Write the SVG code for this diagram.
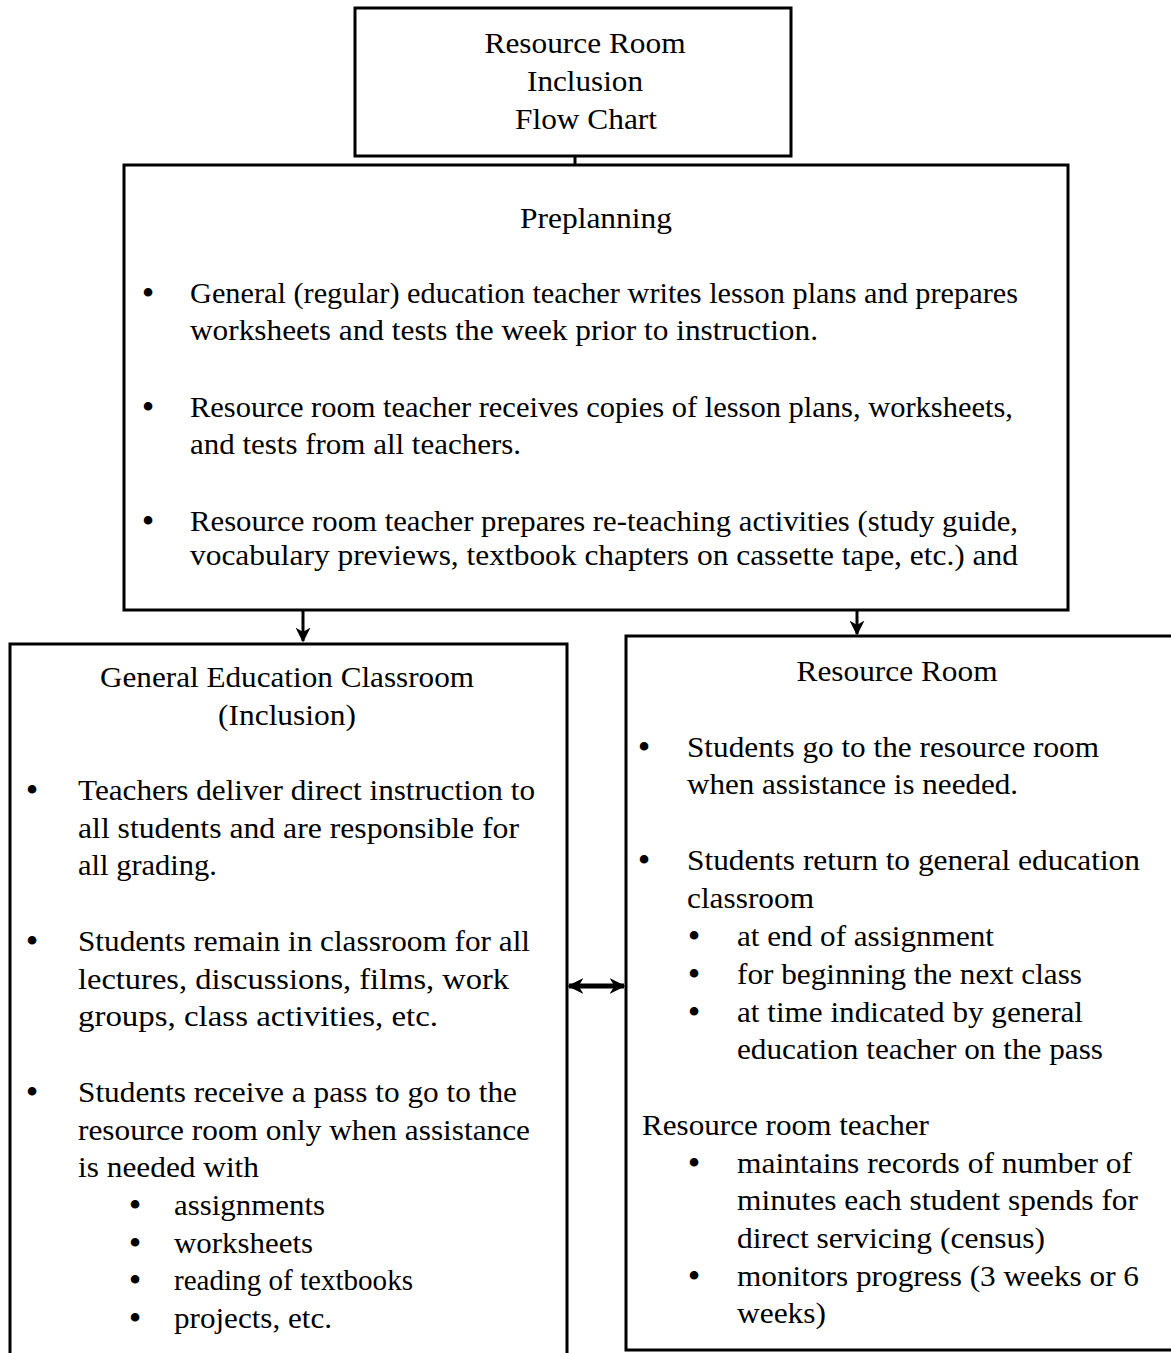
<svg xmlns="http://www.w3.org/2000/svg" width="1171" height="1353" viewBox="0 0 1171 1353">
<style>
.t{font-family:"Liberation Serif","Times New Roman",serif;font-size:30px;fill:#000}
.c{text-anchor:middle}
.b{font-size:36px;text-anchor:middle}
.box{fill:#fff;stroke:#000;stroke-width:3}
.ln{stroke:#000;stroke-width:3;fill:none}
</style>
<defs>
<marker id="ah" viewBox="0 0 10 10" refX="9" refY="5" markerWidth="5" markerHeight="5" orient="auto-start-reverse" markerUnits="strokeWidth">
<path d="M0,0 L10,5 L0,10 L3,5 Z" fill="#000"/>
</marker>
<marker id="ah2" viewBox="0 0 10 10" refX="9" refY="5" markerWidth="3.2" markerHeight="3.2" orient="auto-start-reverse" markerUnits="strokeWidth">
<path d="M0,0 L10,5 L0,10 L3,5 Z" fill="#000"/>
</marker>
</defs>
<rect width="1171" height="1353" fill="#fff"/>
<g id="connectors">
<line class="ln" x1="575" y1="156" x2="575" y2="165"/>
<line class="ln" x1="303" y1="610" x2="303" y2="641" marker-end="url(#ah)"/>
<line class="ln" x1="857" y1="610" x2="857" y2="634" marker-end="url(#ah)"/>
<line x1="569" y1="986" x2="624" y2="986" stroke="#000" stroke-width="5" marker-start="url(#ah2)" marker-end="url(#ah2)"/>
</g>
<g id="title">
<rect class="box" x="355" y="8" width="436" height="148"/>
<text class="t c" x="585" y="53" textLength="201" lengthAdjust="spacingAndGlyphs">Resource Room</text>
<text class="t c" x="585" y="91" textLength="116" lengthAdjust="spacingAndGlyphs">Inclusion</text>
<text class="t c" x="586" y="129" textLength="142" lengthAdjust="spacingAndGlyphs">Flow Chart</text>
</g>
<g id="preplanning">
<rect class="box" x="124" y="165" width="944" height="445"/>
<text class="t c" x="596" y="228" textLength="152" lengthAdjust="spacingAndGlyphs">Preplanning</text>
<text class="t b" x="148" y="305">•</text>
<text class="t" x="190" y="303" textLength="828" lengthAdjust="spacingAndGlyphs">General (regular) education teacher writes lesson plans and prepares</text>
<text class="t" x="190" y="340" textLength="628" lengthAdjust="spacingAndGlyphs">worksheets and tests the week prior to instruction.</text>
<text class="t b" x="148" y="419">•</text>
<text class="t" x="190" y="417" textLength="823" lengthAdjust="spacingAndGlyphs">Resource room teacher receives copies of lesson plans, worksheets,</text>
<text class="t" x="190" y="454" textLength="331" lengthAdjust="spacingAndGlyphs">and tests from all teachers.</text>
<text class="t b" x="148" y="533">•</text>
<text class="t" x="190" y="531" textLength="828" lengthAdjust="spacingAndGlyphs">Resource room teacher prepares re-teaching activities (study guide,</text>
<text class="t" x="190" y="565" textLength="828" lengthAdjust="spacingAndGlyphs">vocabulary previews, textbook chapters on cassette tape, etc.) and</text>
</g>
<g id="general-classroom">
<rect class="box" x="10" y="644" width="557" height="720"/>
<text class="t c" x="287" y="687" textLength="374" lengthAdjust="spacingAndGlyphs">General Education Classroom</text>
<text class="t c" x="287" y="725" textLength="138" lengthAdjust="spacingAndGlyphs">(Inclusion)</text>
<text class="t b" x="32" y="802">•</text>
<text class="t" x="78" y="800" textLength="457" lengthAdjust="spacingAndGlyphs">Teachers deliver direct instruction to</text>
<text class="t" x="78" y="838" textLength="441" lengthAdjust="spacingAndGlyphs">all students and are responsible for</text>
<text class="t" x="78" y="875" textLength="139" lengthAdjust="spacingAndGlyphs">all grading.</text>
<text class="t b" x="32" y="953">•</text>
<text class="t" x="78" y="951" textLength="452" lengthAdjust="spacingAndGlyphs">Students remain in classroom for all</text>
<text class="t" x="78" y="989" textLength="431" lengthAdjust="spacingAndGlyphs">lectures, discussions, films, work</text>
<text class="t" x="78" y="1026" textLength="360" lengthAdjust="spacingAndGlyphs">groups, class activities, etc.</text>
<text class="t b" x="32" y="1104">•</text>
<text class="t" x="78" y="1102" textLength="439" lengthAdjust="spacingAndGlyphs">Students receive a pass to go to the</text>
<text class="t" x="78" y="1140" textLength="452" lengthAdjust="spacingAndGlyphs">resource room only when assistance</text>
<text class="t" x="78" y="1177" textLength="181" lengthAdjust="spacingAndGlyphs">is needed with</text>
<text class="t b" x="135" y="1217">•</text>
<text class="t" x="174" y="1215" textLength="151" lengthAdjust="spacingAndGlyphs">assignments</text>
<text class="t b" x="135" y="1255">•</text>
<text class="t" x="174" y="1253" textLength="139" lengthAdjust="spacingAndGlyphs">worksheets</text>
<text class="t b" x="135" y="1292">•</text>
<text class="t" x="174" y="1290" textLength="239" lengthAdjust="spacingAndGlyphs">reading of textbooks</text>
<text class="t b" x="135" y="1330">•</text>
<text class="t" x="174" y="1328" textLength="158" lengthAdjust="spacingAndGlyphs">projects, etc.</text>
</g>
<g id="resource-room">
<rect class="box" x="626" y="636" width="560" height="714"/>
<text class="t c" x="897" y="681" textLength="201" lengthAdjust="spacingAndGlyphs">Resource Room</text>
<text class="t b" x="644" y="759">•</text>
<text class="t" x="687" y="757" textLength="412" lengthAdjust="spacingAndGlyphs">Students go to the resource room</text>
<text class="t" x="687" y="794" textLength="331" lengthAdjust="spacingAndGlyphs">when assistance is needed.</text>
<text class="t b" x="644" y="872">•</text>
<text class="t" x="687" y="870" textLength="453" lengthAdjust="spacingAndGlyphs">Students return to general education</text>
<text class="t" x="687" y="908" textLength="127" lengthAdjust="spacingAndGlyphs">classroom</text>
<text class="t b" x="694" y="948">•</text>
<text class="t" x="737" y="946" textLength="257" lengthAdjust="spacingAndGlyphs">at end of assignment</text>
<text class="t b" x="694" y="986">•</text>
<text class="t" x="737" y="984" textLength="345" lengthAdjust="spacingAndGlyphs">for beginning the next class</text>
<text class="t b" x="694" y="1024">•</text>
<text class="t" x="737" y="1022" textLength="346" lengthAdjust="spacingAndGlyphs">at time indicated by general</text>
<text class="t" x="737" y="1059" textLength="366" lengthAdjust="spacingAndGlyphs">education teacher on the pass</text>
<text class="t" x="642" y="1135" textLength="287" lengthAdjust="spacingAndGlyphs">Resource room teacher</text>
<text class="t b" x="694" y="1175">•</text>
<text class="t" x="737" y="1173" textLength="395" lengthAdjust="spacingAndGlyphs">maintains records of number of</text>
<text class="t" x="737" y="1210" textLength="401" lengthAdjust="spacingAndGlyphs">minutes each student spends for</text>
<text class="t" x="737" y="1248" textLength="308" lengthAdjust="spacingAndGlyphs">direct servicing (census)</text>
<text class="t b" x="694" y="1288">•</text>
<text class="t" x="737" y="1286" textLength="402" lengthAdjust="spacingAndGlyphs">monitors progress (3 weeks or 6</text>
<text class="t" x="737" y="1323" textLength="89" lengthAdjust="spacingAndGlyphs">weeks)</text>
</g>
</svg>
